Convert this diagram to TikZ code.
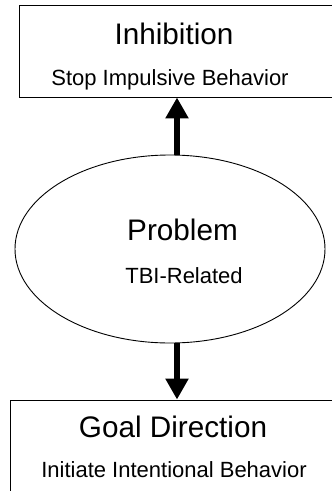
\documentclass[tikz,border=0pt]{standalone}
\usepackage{fontspec}
\setmainfont{Liberation Sans}
\usetikzlibrary{arrows.meta,shapes.geometric}
\begin{document}
\begin{tikzpicture}[x=1pt,y=1pt,
  frame/.style={draw, line width=0.9pt, inner sep=0pt},
  title/.style={font=\fontsize{29.7}{30}\selectfont, anchor=base, inner sep=0pt},
  sub/.style={font=\fontsize{22}{22}\selectfont, anchor=base, inner sep=0pt},
  bigarrow/.style={line width=6pt, -{Triangle[length=21pt,width=22pt]}}]
\useasboundingbox (0,0) rectangle (332,-491);

% boxes (running past the right edge) and the central ellipse
\node[frame, rectangle, minimum width=320pt, minimum height=92pt] (inh) at (179,-51) {};
\node[frame, ellipse, minimum width=310pt, minimum height=188pt] (prob) at (170,-249) {};
\node[frame, rectangle, minimum width=330pt, minimum height=92pt] (goal) at (175,-446) {};

% labels
\node[title] (inhT) at (174,-44) {Inhibition};
\node[sub]   (inhS) at (170,-85) {Stop Impulsive Behavior};
\node[title] (probT) at (182.5,-240) {Problem};
\node[sub]   (probS) at (184,-283) {TBI-Related};
\node[title] (goalT) at (173,-437) {Goal Direction};
\node[sub]   (goalS) at (174,-477) {Initiate Intentional Behavior};

% arrows
\coordinate (ax) at (177,0);
\draw[bigarrow] (prob.north -| ax) -- (inh.south -| ax);
\draw[bigarrow] (prob.south -| ax) -- (goal.north -| ax);
\end{tikzpicture}
\end{document}
